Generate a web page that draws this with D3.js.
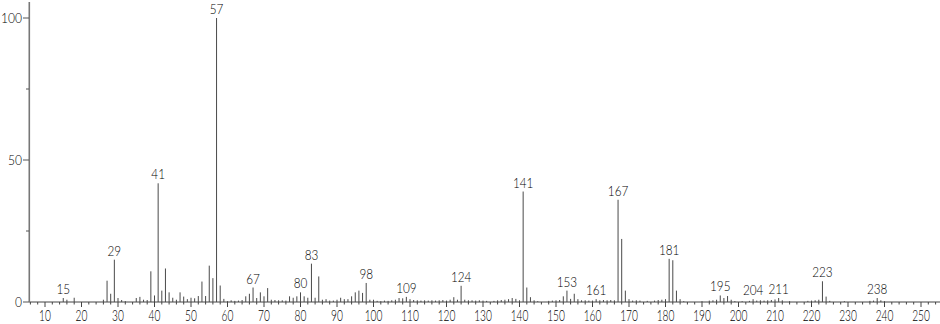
<!DOCTYPE html>
<html>
<head>
<meta charset="utf-8">
<script src="https://cdn.jsdelivr.net/npm/d3@7"></script>
<style>
    body { margin: 0; background: #fff; }
    text { font-family: Lato, "Open Sans", "DejaVu Sans", sans-serif; font-weight: 300; fill: #000; }
</style>
</head>
<body>
<div id="specSection"></div>
<script>
// m/z values and relative intensities
const mz = [15, 16, 18, 26, 27, 28, 29, 30, 31, 32, 35, 36, 37, 38, 39, 40, 41, 42, 43, 44,
    45, 46, 47, 48, 49, 50, 51, 52, 53, 54, 55, 56, 57, 58, 59, 60, 61, 62, 63, 64,
    65, 66, 67, 68, 69, 70, 71, 72, 73, 74, 75, 76, 77, 78, 79, 80, 81, 82, 83, 84,
    85, 86, 87, 88, 89, 90, 91, 92, 93, 94, 95, 96, 97, 98, 99, 100, 101, 102, 103, 104,
    105, 106, 107, 108, 109, 110, 111, 112, 113, 114, 115, 116, 117, 118, 119, 120, 121, 122, 123, 124,
    125, 126, 127, 128, 129, 130, 131, 133, 134, 135, 136, 137, 138, 139, 140, 141, 142, 143, 144, 145,
    148, 149, 150, 151, 152, 153, 154, 155, 156, 157, 158, 159, 160, 161, 162, 163, 164, 165, 166, 167,
    168, 169, 170, 171, 172, 173, 175, 177, 178, 179, 180, 181, 182, 183, 184, 185, 190, 192, 193, 194,
    195, 196, 197, 198, 199, 201, 203, 204, 205, 206, 207, 208, 209, 210, 211, 212, 214, 219, 220, 221,
    222, 223, 224, 225, 229, 236, 237, 238, 239, 240]

const intensity = [1.4, 0.8, 1.5, 0.8, 7.5, 2.9, 14.9, 1.4, 0.7, 0.3, 1.4, 1.8, 0.8, 0.7, 10.8, 2.3, 41.8, 4.0, 11.8, 3.4,
    1.5, 0.8, 3.4, 1.9, 1.0, 1.5, 1.3, 2.1, 7.2, 2.1, 12.8, 8.4, 100, 5.8, 1.1, 0.3, 0.6, 0.4, 0.5, 0.7,
    2.0, 2.9, 5.1, 1.4, 3.4, 2.0, 4.9, 0.8, 0.7, 0.6, 0.6, 0.5, 2.0, 1.5, 2.0, 3.4, 2.0, 1.5, 13.5, 1.5,
    9.0, 0.8, 1.0, 0.5, 0.5, 0.8, 1.5, 1.0, 1.0, 2.0, 3.4, 4.0, 3.2, 6.7, 0.8, 0.8, 0.4, 0.3, 0.5, 0.4,
    0.6, 0.8, 1.4, 1.3, 1.8, 1.0, 0.7, 0.6, 0.5, 0.6, 0.5, 0.6, 0.5, 0.6, 0.7, 0.5, 0.8, 1.7, 0.8, 5.7,
    0.8, 0.6, 0.6, 0.5, 0.6, 0.5, 0.4, 0.4, 0.6, 0.7, 0.8, 1.0, 1.4, 1.1, 0.6, 38.9, 5.1, 1.7, 0.6, 0.3,
    0.4, 0.5, 0.6, 0.7, 2.0, 4.0, 1.1, 2.9, 1.0, 0.6, 0.6, 0.5, 0.5, 1.0, 0.6, 0.7, 0.6, 0.7, 0.6, 36.0,
    22.2, 4.0, 1.0, 0.5, 0.6, 0.5, 0.4, 0.5, 0.7, 0.8, 1.0, 15.2, 14.7, 4.0, 1.0, 0.3, 0.3, 0.5, 0.6, 0.8,
    2.3, 1.4, 2.1, 0.8, 0.3, 0.3, 0.4, 1.0, 0.5, 0.6, 0.5, 0.6, 0.7, 0.9, 1.4, 0.6, 0.3, 0.4, 0.5, 0.6,
    0.8, 7.3, 1.9, 0.4, 0.3, 0.4, 0.5, 1.4, 0.6, 0.3]

const labelled = [15, 29, 41, 57, 67, 80, 83, 98, 109, 124, 141, 153, 161, 167, 181, 195, 204, 211, 223, 238]
const xTicks = d3.range(10, 251, 10)
const xMinor = d3.range(6, 256, 2)
const yTicks = [0, 50, 100]
const yMinor = [25, 75]

function init() {
    let svg = d3.select("#specSection")
        .append("svg")
        .attr("width", 940)
        .attr("height", 324)
        .attr("id", "specMain")

    let x = d3.scaleLinear().domain([10, 250]).range([45, 921])
    let y = d3.scaleLinear().domain([0, 100]).range([302, 18])

    let g = svg.append("g").attr("id", "specG")

    drawAxes(g, x, y)
    drawPeaks(g, x, y)
}

function drawAxes(g, x, y) {
    // x axis line + ticks below
    g.append("line")
        .attr("x1", 29).attr("x2", 940)
        .attr("y1", y(0)).attr("y2", y(0))
        .attr("stroke", "#444")
        .attr("stroke-width", 1)

    g.selectAll("xminor")
        .data(xMinor.filter(d => d % 10 != 0))
        .enter()
        .append("line")
        .attr("x1", d => x(d)).attr("x2", d => x(d))
        .attr("y1", y(0)).attr("y2", y(0) + 2.5)
        .attr("stroke", "#444")

    g.selectAll("xmajor")
        .data(xTicks)
        .enter()
        .append("line")
        .attr("x1", d => x(d)).attr("x2", d => x(d))
        .attr("y1", y(0)).attr("y2", y(0) + 5)
        .attr("stroke", "#444")

    g.selectAll("xlabel")
        .data(xTicks)
        .enter()
        .append("text")
        .attr("x", d => x(d))
        .attr("y", 320.5)
        .attr("text-anchor", "middle")
        .attr("font-size", 16)
        .attr("textLength", d => String(d).length * 5.9)
        .attr("lengthAdjust", "spacingAndGlyphs")
        .text(d => d)

    // y axis
    g.append("line")
        .attr("x1", 29.3).attr("x2", 29.3)
        .attr("y1", 2).attr("y2", y(0))
        .attr("stroke", "#777")
        .attr("stroke-width", 1.6)

    g.selectAll("ymajor")
        .data(yTicks)
        .enter()
        .append("line")
        .attr("x1", 23).attr("x2", 29)
        .attr("y1", d => y(d)).attr("y2", d => y(d))
        .attr("stroke", "#555")

    g.selectAll("yminor")
        .data(yMinor)
        .enter()
        .append("line")
        .attr("x1", 26).attr("x2", 29)
        .attr("y1", d => y(d)).attr("y2", d => y(d))
        .attr("stroke", "#555")

    g.selectAll("ylabel")
        .data(yTicks)
        .enter()
        .append("text")
        .attr("x", 22)
        .attr("y", d => y(d) + 5)
        .attr("text-anchor", "end")
        .attr("font-size", 14.5)
        .attr("textLength", d => String(d).length * 7)
        .attr("lengthAdjust", "spacingAndGlyphs")
        .text(d => d)
}

function drawPeaks(g, x, y) {
    let peaks = mz.map((d, i) => ({ mz: d, v: intensity[i] }))

    g.selectAll("peak")
        .data(peaks)
        .enter()
        .append("line")
        .attr("x1", d => x(d.mz)).attr("x2", d => x(d.mz))
        .attr("y1", y(0)).attr("y2", d => y(d.v))
        .attr("stroke", "#4a4a4a")
        .attr("stroke-width", 1)
        .classed("peak", true)

    g.selectAll("peakLabel")
        .data(peaks.filter(d => labelled.includes(d.mz)))
        .enter()
        .append("text")
        .attr("x", d => x(d.mz))
        .attr("y", d => y(d.v) - 4)
        .attr("text-anchor", "middle")
        .attr("font-size", 14.5)
        .attr("textLength", d => String(d.mz).length * 6.8)
        .attr("lengthAdjust", "spacingAndGlyphs")
        .text(d => d.mz)
}

window.onload = init;
</script>
</body>
</html>
